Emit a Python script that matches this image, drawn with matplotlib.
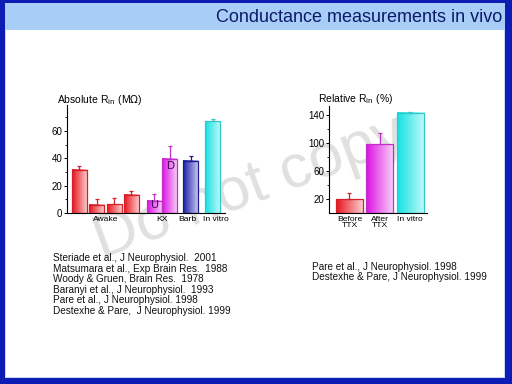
import numpy as np
import matplotlib
matplotlib.use('Agg')
from matplotlib import pyplot as plt
from matplotlib.patches import Rectangle
from matplotlib.colors import to_rgb

plt.rcParams['font.family'] = ['Liberation Sans', 'DejaVu Sans']

# absolute input resistance (MOhm)
abs_x = [0, 1, 2, 3, 4.3, 5.2, 6.4, 7.65]
abs_vals = [31.6, 5.9, 6.4, 13.2, 9.0, 39.7, 38.2, 67.1]
abs_err = [2.9, 4.1, 4.9, 3.0, 4.7, 9.1, 3.7, 1.3]
abs_groups = ['red', 'red', 'red', 'red', 'magenta', 'magenta', 'blue', 'cyan']
abs_ticks = [1.5, 4.72, 6.22, 7.8]
abs_ticklabels = ['Awake', 'KX', 'Barb', 'In vitro']

# relative input resistance (%)
rel_x = [0, 1, 2]
rel_vals = [19.6, 98.6, 143]
rel_err = [8.4, 16.4, 2.0]
rel_groups = ['red', 'magenta', 'cyan']
rel_ticklabels = ['Before\nTTX', 'After\nTTX', 'In vitro']

refs_left = ['Steriade et al., J Neurophysiol.  2001',
             'Matsumara et al., Exp Brain Res.  1988',
             'Woody & Gruen, Brain Res.  1978',
             'Baranyi et al., J Neurophysiol.  1993',
             'Pare et al., J Neurophysiol. 1998',
             'Destexhe & Pare,  J Neurophysiol. 1999']
refs_right = ['Pare et al., J Neurophysiol. 1998',
              'Destexhe & Pare, J Neurophysiol. 1999']

# (left colour, right colour, outline)
palette = {
    'red': ('#e8141c', '#fbd4d4', '#d42028'),
    'magenta': ('#dc10e4', '#f8d4f8', '#c030c8'),
    'blue': ('#1c1ca8', '#cfcff2', '#1a1a8c'),
    'cyan': ('#14e2e2', '#c4f8f8', '#30c8c8'),
}


def grad_bars(ax, xs, vals, errs, groups, width):
    for x, v, e, g in zip(xs, vals, errs, groups):
        c0, c1, ce = palette[g]
        t = np.linspace(0, 1, 64)[None, :, None]
        img = np.array(to_rgb(c0))[None, None, :] * (1 - t) + \
            np.array(to_rgb(c1))[None, None, :] * t
        ax.imshow(img, extent=[x - width / 2, x + width / 2, 0, v],
                  aspect='auto', interpolation='bilinear', zorder=2)
        ax.add_patch(Rectangle((x - width / 2, 0), width, v, fill=False,
                               edgecolor=ce, lw=0.9, zorder=3))
        ax.errorbar([x], [v], yerr=[[0], [e]], fmt='none', ecolor=ce,
                    elinewidth=0.9, capsize=1.5, capthick=0.9, zorder=3)


def style(ax):
    ax.set_zorder(3)
    ax.patch.set_alpha(0)
    for s in ['top', 'right']:
        ax.spines[s].set_visible(False)
    for s in ['left', 'bottom']:
        ax.spines[s].set_linewidth(0.8)
    ax.tick_params(axis='y', direction='out', length=2.5, width=0.7,
                   labelsize=7, pad=1)
    ax.tick_params(axis='y', which='minor', length=1.5, width=0.6)
    ax.tick_params(axis='x', length=0, labelsize=6.1, pad=2)


fig = plt.figure(figsize=(5.12, 3.84), dpi=100)
fig.patch.set_facecolor('white')

# slide frame and title bar
frame = [((0, 0), 1, 1, '#0c1cb4'),
         ((5 / 512, 6 / 384), 500 / 512, 375 / 384, '#c8d8f8'),
         ((6 / 512, 7 / 384), 498 / 512, 347 / 384, 'white'),
         ((5 / 512, 354 / 384), 500 / 512, 27 / 384, '#a8cdf6')]
for xy, w, h, c in frame:
    fig.add_artist(Rectangle(xy, w, h, transform=fig.transFigure,
                             facecolor=c, edgecolor='none', zorder=-5))
fig.text(502 / 512, 1 - 17 / 384, 'Conductance measurements in vivo',
         ha='right', va='center', fontsize=13, color='#0c1a6a')

# watermark
fig.text(250 / 512, 1 - 188 / 384, 'Do not copy', ha='center', va='center',
         rotation=20, fontsize=44, color='#e0e0e0', zorder=-1)

# left chart
ax1 = fig.add_axes([67 / 512, 1 - 213 / 384, 158 / 512, 108 / 384])
grad_bars(ax1, abs_x, abs_vals, abs_err, abs_groups, 0.86)
ax1.set_xlim(-0.69, 8.35)
ax1.set_ylim(0, 79)
ax1.set_yticks([0, 20, 40, 60])
ax1.set_yticks([10, 30, 50, 70], minor=True)
ax1.set_xticks(abs_ticks)
ax1.set_xticklabels(abs_ticklabels)
style(ax1)
ax1.text(abs_x[4], 2.0, 'U', ha='center', va='bottom', fontsize=8,
         color='#3a0a50', zorder=4)
ax1.text(abs_x[5], abs_vals[5] - 1.5, 'D', ha='center', va='top',
         fontsize=8, color='#3a0a50', zorder=4)
fig.text(57 / 512, 1 - 100 / 384, r'Absolute R$_{\rm in}$ (M$\Omega$)',
         ha='left', va='center', fontsize=7.5)

# right chart
ax2 = fig.add_axes([329 / 512, 1 - 213 / 384, 98 / 512, 107 / 384])
grad_bars(ax2, rel_x, rel_vals, rel_err, rel_groups, 0.89)
ax2.set_xlim(-0.67, 2.55)
ax2.set_ylim(0, 153)
ax2.set_yticks([20, 60, 100, 140])
ax2.set_yticks([40, 80, 120], minor=True)
ax2.set_xticks(rel_x)
ax2.set_xticklabels(rel_ticklabels, linespacing=0.9)
style(ax2)
fig.text(318 / 512, 1 - 99 / 384, r'Relative R$_{\rm in}$ (%)',
         ha='left', va='center', fontsize=7.5)

# references
for i, r in enumerate(refs_left):
    fig.text(53 / 512, 1 - (258 + 10.6 * i) / 384, r, ha='left',
             va='center', fontsize=7.2, color='#111111')
for i, r in enumerate(refs_right):
    fig.text(312 / 512, 1 - (267 + 10.2 * i) / 384, r, ha='left',
             va='center', fontsize=7.2, color='#111111')

fig.savefig('out.png', dpi=100)
